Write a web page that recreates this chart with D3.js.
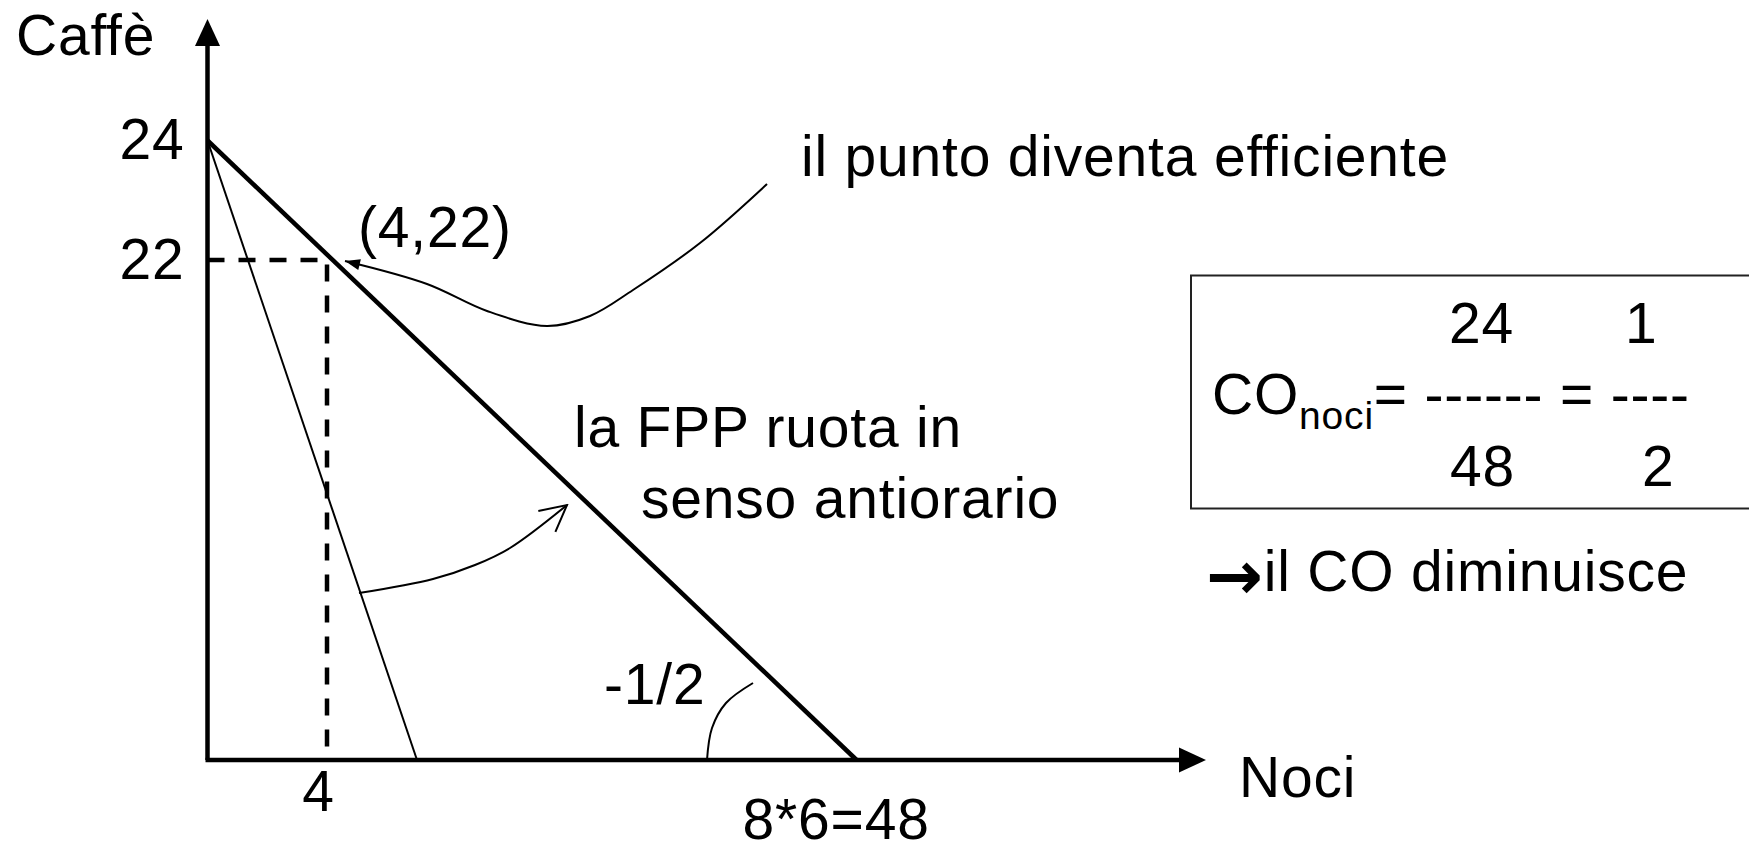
<!DOCTYPE html>
<html>
<head>
<meta charset="utf-8">
<script src="https://cdn.jsdelivr.net/npm/d3@7/dist/d3.min.js"></script>
<style>
body { margin: 0; background: #fff; }
svg text { font-family: "Liberation Sans", Arial, sans-serif; fill: #000; letter-spacing: 0.8px; }
</style>
</head>
<body>
<div id="chart"></div>
<script>
// values
let yTicks = [24, 22];
let xTicks = [4, 48];
let xTickLabels = ["4", "8*6=48"];
let fppNew = [[0, 24], [48, 0]];   // FPP after the change (slope -1/2)
let fppOld = [[0, 24], [12, 0]];   // FPP before the rotation
let point = [4, 22];
let coNum = ["24", "1"];
let coDen = ["48", "2"];

let panel = {
	width: 1749,
	height: 845
};
let fs = 57;

// the sketch is not drawn to scale, so the scales are piecewise
let x = d3.scaleLinear().domain([0, 4, 12, 48]).range([207.5, 327, 417, 856.6]);
let y = d3.scaleLinear().domain([0, 22, 24]).range([760, 260, 140.5]);

let svg = d3.select("#chart")
	.append("svg")
	.attr("width", panel.width)
	.attr("height", panel.height);

let defs = svg.append("defs");
defs.append("marker")
	.attr("id", "axisHead")
	.attr("markerUnits", "userSpaceOnUse")
	.attr("viewBox", "-1 -14 30 28")
	.attr("markerWidth", 30).attr("markerHeight", 28)
	.attr("refX", 0).attr("refY", 0)
	.attr("orient", "auto")
	.append("path")
	.attr("d", "M0,-12.5 L27,0 L0,12.5 Z")
	.attr("fill", "#000");
defs.append("marker")
	.attr("id", "solidHead")
	.attr("markerUnits", "userSpaceOnUse")
	.attr("viewBox", "-16 -8 18 16")
	.attr("markerWidth", 18).attr("markerHeight", 16)
	.attr("refX", 0).attr("refY", 0)
	.attr("orient", "auto")
	.append("path")
	.attr("d", "M0,0 L-15,-5.5 L-15,5.5 Z")
	.attr("fill", "#000");
defs.append("marker")
	.attr("id", "openHead")
	.attr("markerUnits", "userSpaceOnUse")
	.attr("viewBox", "-30 -16 32 32")
	.attr("markerWidth", 32).attr("markerHeight", 32)
	.attr("refX", 0).attr("refY", 0)
	.attr("orient", "auto")
	.append("path")
	.attr("d", "M-26,-13.5 L0,0 L-26,13.5")
	.attr("fill", "none")
	.attr("stroke", "#000")
	.attr("stroke-width", 2);

let line = d3.line()
	.x((d) => { return x(d[0]); })
	.y((d) => { return y(d[1]); });

// dashed guides to (4,22)
svg.append("path")
	.attr("d", line([[0, point[1]], point, [point[0], 0]]))
	.attr("fill", "none")
	.attr("stroke", "#000")
	.attr("stroke-width", 4.5)
	.attr("stroke-dasharray", "17,14");

// old FPP (thin) and new FPP (thick)
svg.append("path")
	.attr("d", line(fppOld))
	.attr("fill", "none")
	.attr("stroke", "#000")
	.attr("stroke-width", 2);
svg.append("path")
	.attr("d", line(fppNew))
	.attr("fill", "none")
	.attr("stroke", "#000")
	.attr("stroke-width", 4.5);

// axes with arrow heads
svg.append("line")
	.attr("x1", x(0)).attr("y1", y(0))
	.attr("x2", x(0)).attr("y2", 46)
	.attr("stroke", "#000")
	.attr("stroke-width", 4.5)
	.attr("marker-end", "url(#axisHead)");
svg.append("line")
	.attr("x1", x(0) - 2).attr("y1", y(0))
	.attr("x2", 1179).attr("y2", y(0))
	.attr("stroke", "#000")
	.attr("stroke-width", 4.5)
	.attr("marker-end", "url(#axisHead)");

// tick labels
let yAxis = svg.append("g")
	.attr("transform", "translate(" + x(0) + ",0)")
	.call(d3.axisLeft(y).tickValues(yTicks).tickSize(0).tickPadding(23));
yAxis.select(".domain").remove();
yAxis.selectAll("text")
	.attr("font-size", fs)
	.attr("font-family", "Liberation Sans, Arial, sans-serif");

let xAxis = svg.append("g")
	.attr("transform", "translate(0," + y(0) + ")")
	.call(d3.axisBottom(x).tickValues(xTicks).tickSize(0).tickPadding(11)
		.tickFormat((d, i) => { return xTickLabels[i]; }));
xAxis.select(".domain").remove();
xAxis.selectAll("text")
	.attr("font-size", fs)
	.attr("font-family", "Liberation Sans, Arial, sans-serif")
	.attr("dx", (d, i) => { return i == 0 ? -9 : -21; })
	.attr("y", (d, i) => { return i == 0 ? 11 : 39; });

// axis titles
svg.append("text").attr("x", 16).attr("y", 55).attr("font-size", fs).text("Caffè");
svg.append("text").attr("x", 1239).attr("y", 797).attr("font-size", fs).text("Noci");

// annotations
svg.append("text").attr("x", 358).attr("y", 247).attr("font-size", fs)
	.text("(" + point[0] + "," + point[1] + ")");
svg.append("text").attr("x", 801).attr("y", 176).attr("font-size", fs)
	.text("il punto diventa efficiente");
svg.append("text").attr("x", 574).attr("y", 447).attr("font-size", fs)
	.text("la FPP ruota in");
svg.append("text").attr("x", 641).attr("y", 518).attr("font-size", fs)
	.text("senso antiorario");
svg.append("text").attr("x", 604).attr("y", 704).attr("font-size", fs)
	.text("-1/2");

let curve = d3.line().curve(d3.curveCatmullRom.alpha(0.5));
let effArrow = [[767, 184], [700, 243], [633, 290], [590, 316], [547, 326], [487, 311], [427, 284], [345, 261]];
let rotArrow = [[359, 593], [433, 579], [475, 565], [510, 548], [567, 505]];
let slopeArc = [[707, 760], [712, 728], [726, 703], [753, 683]];

svg.append("path")
	.attr("d", curve(effArrow))
	.attr("fill", "none").attr("stroke", "#000").attr("stroke-width", 2)
	.attr("marker-end", "url(#solidHead)");
svg.append("path")
	.attr("d", curve(rotArrow))
	.attr("fill", "none").attr("stroke", "#000").attr("stroke-width", 2)
	.attr("marker-end", "url(#openHead)");
svg.append("path")
	.attr("d", curve(slopeArc))
	.attr("fill", "none").attr("stroke", "#000").attr("stroke-width", 2);

// opportunity cost box
svg.append("rect")
	.attr("x", 1191).attr("y", 275.5)
	.attr("width", 620).attr("height", 233)
	.attr("fill", "none")
	.attr("stroke", "#222")
	.attr("stroke-width", 2);

let co = svg.append("text").attr("x", 1212).attr("y", 414).attr("font-size", fs);
co.append("tspan").text("CO");
co.append("tspan").attr("font-size", 39).attr("dy", 15).text("noci");
co.append("tspan").attr("dy", -15).text("= ------ = ----");

svg.selectAll(".num")
	.data(coNum)
	.enter().append("text")
	.attr("class", "num")
	.attr("x", (d, i) => { return i == 0 ? 1449 : 1625; })
	.attr("y", 343)
	.attr("font-size", fs)
	.text((d) => { return d; });
svg.selectAll(".den")
	.data(coDen)
	.enter().append("text")
	.attr("class", "den")
	.attr("x", (d, i) => { return i == 0 ? 1450 : 1642; })
	.attr("y", 486)
	.attr("font-size", fs)
	.text((d) => { return d; });

let dim = svg.append("text").attr("x", 1206).attr("y", 591).attr("font-size", fs);
dim.append("tspan")
	.attr("font-family", "DejaVu Sans, sans-serif")
	.attr("font-weight", "bold")
	.attr("font-size", 68)
	.attr("dy", 8)
	.text("\u2192");
dim.append("tspan").attr("dy", -8).text("il CO diminuisce");
</script>
</body>
</html>
